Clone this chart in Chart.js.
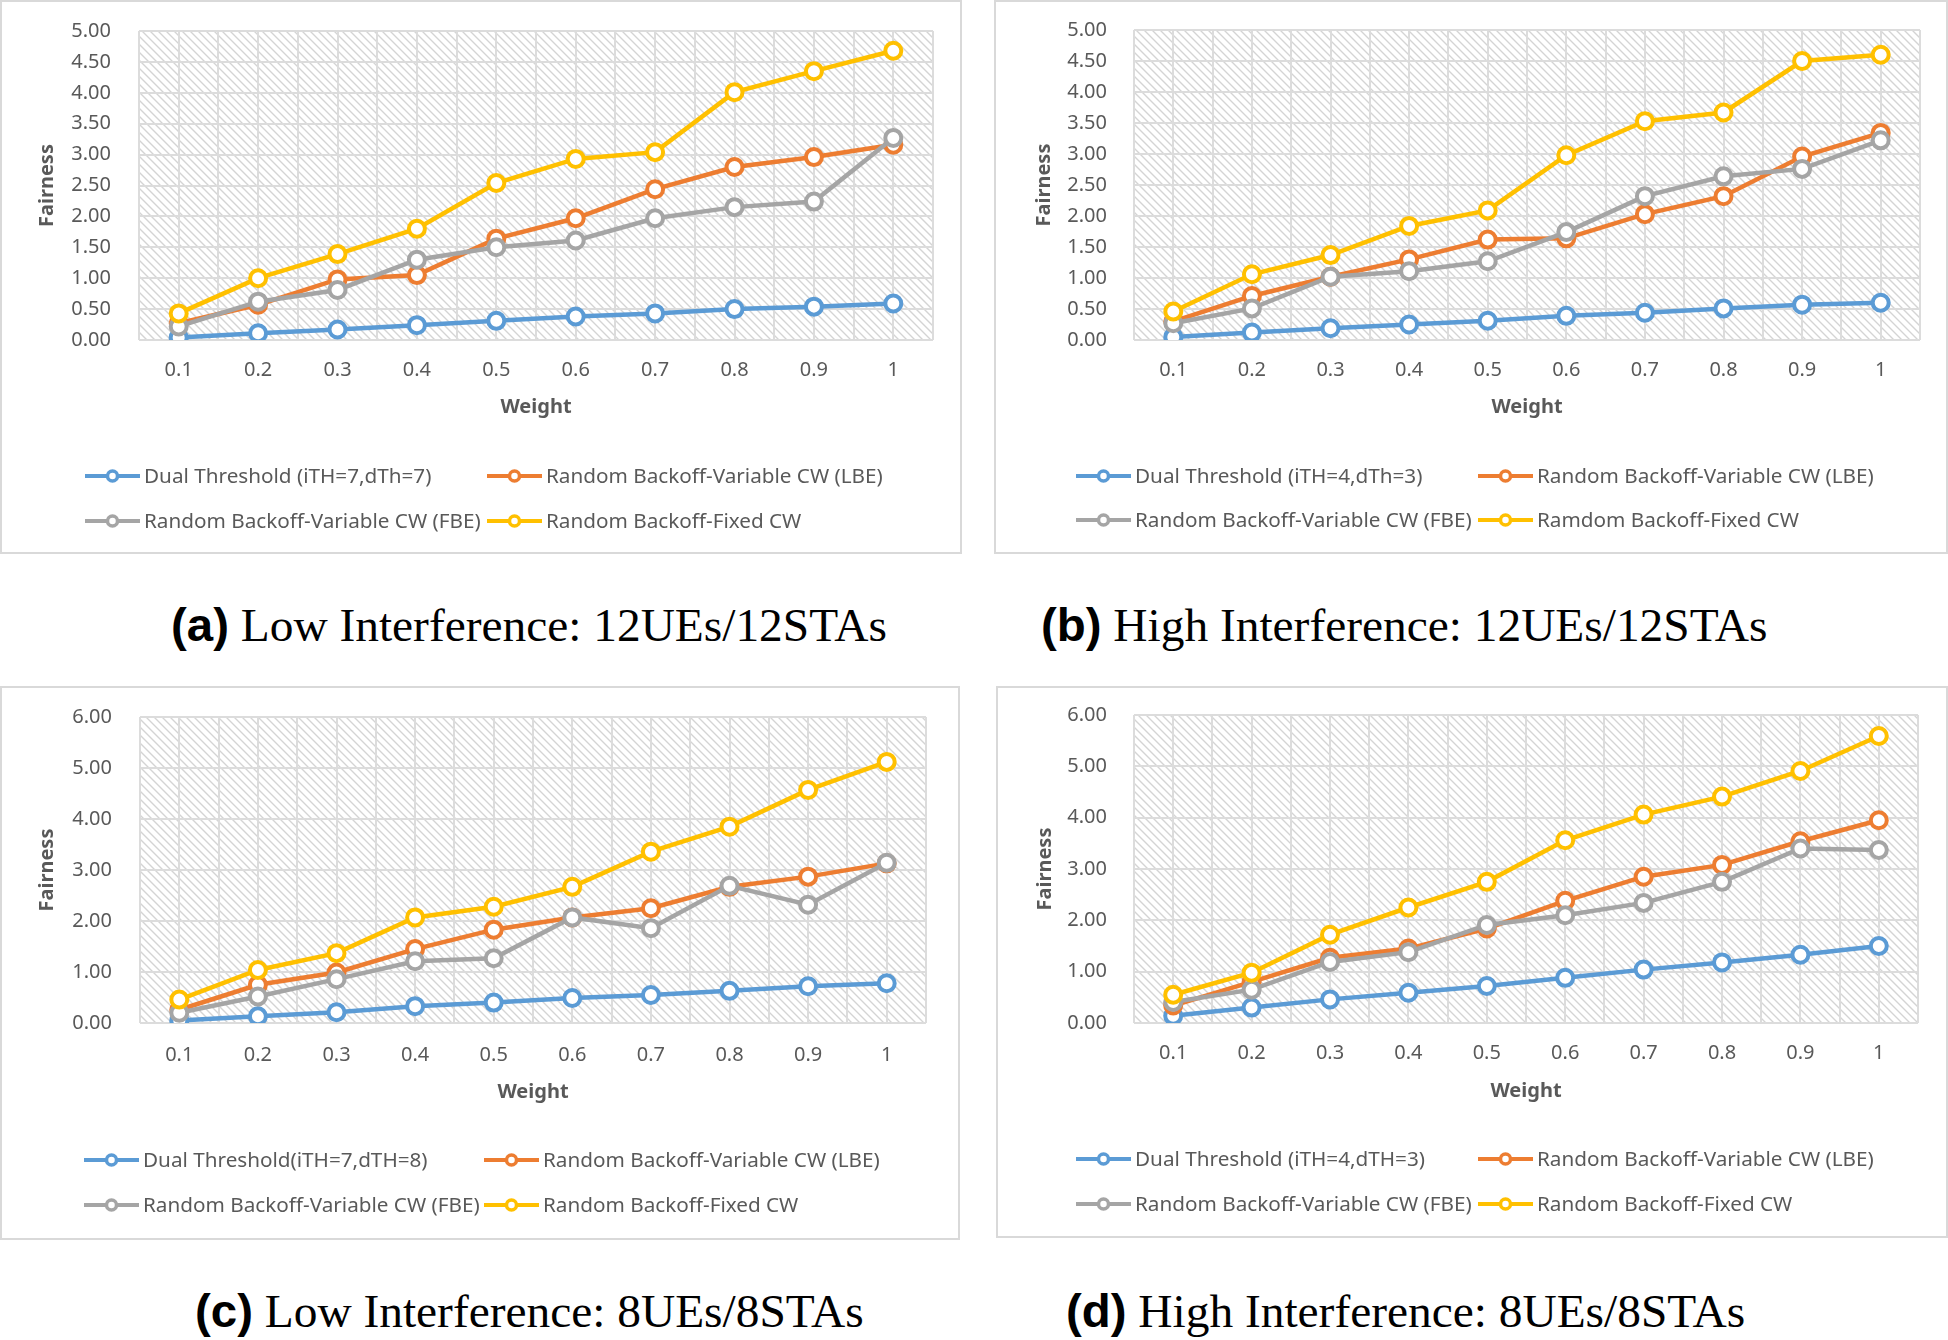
<!DOCTYPE html>
<html>
<head>
<meta charset="utf-8">
<script src="https://cdn.jsdelivr.net/npm/chart.js@4.4.1/dist/chart.umd.min.js"></script>
<style>
  html, body { margin: 0; padding: 0; background: #ffffff; }
  body { width: 1948px; height: 1340px; position: relative; overflow: hidden; }
  .panel { position: absolute; box-sizing: border-box; border: 2px solid #d9d9d9; background: #fff; }
  .panel canvas { position: absolute; left: 0; top: 0; }
  .cap { position: absolute; font-family: 'Liberation Serif', 'Times New Roman', serif; font-size: 46px; line-height: 46px; color: #000; white-space: nowrap; transform-origin: 0 0; transform: scaleX(1.03); }
  .cap b { font-family: 'Liberation Sans', Arial, sans-serif; font-weight: bold; }
</style>
</head>
<body>
<div class="panel" id="pa"><canvas id="ca"></canvas></div>
<div class="panel" id="pb"><canvas id="cb"></canvas></div>
<div class="panel" id="pc"><canvas id="cc"></canvas></div>
<div class="panel" id="pd"><canvas id="cd"></canvas></div>
<div class="cap" id="capa"><b>(a)</b> Low Interference: 12UEs/12STAs</div>
<div class="cap" id="capb"><b>(b)</b> High Interference: 12UEs/12STAs</div>
<div class="cap" id="capc"><b>(c)</b> Low Interference: 8UEs/8STAs</div>
<div class="cap" id="capd"><b>(d)</b> High Interference: 8UEs/8STAs</div>
<script>
// ---------------- DATA ----------------
const weights = ['0.1', '0.2', '0.3', '0.4', '0.5', '0.6', '0.7', '0.8', '0.9', '1'];

const aNames = ['Dual Threshold (iTH=7,dTh=7)', 'Random Backoff-Variable CW (LBE)', 'Random Backoff-Variable CW (FBE)', 'Random Backoff-Fixed CW'];
const aDual  = [0.04, 0.11, 0.17, 0.24, 0.31, 0.38, 0.43, 0.50, 0.54, 0.59];
const aLBE   = [0.27, 0.57, 0.98, 1.05, 1.64, 1.97, 2.44, 2.80, 2.96, 3.16];
const aFBE   = [0.22, 0.62, 0.81, 1.30, 1.50, 1.61, 1.97, 2.15, 2.24, 3.27];
const aFixed = [0.43, 1.00, 1.39, 1.80, 2.54, 2.93, 3.04, 4.01, 4.35, 4.68];

const bNames = ['Dual Threshold (iTH=4,dTh=3)', 'Random Backoff-Variable CW (LBE)', 'Random Backoff-Variable CW (FBE)', 'Ramdom Backoff-Fixed CW'];
const bDual  = [0.05, 0.12, 0.19, 0.25, 0.31, 0.39, 0.44, 0.51, 0.57, 0.60];
const bLBE   = [0.30, 0.71, 1.02, 1.30, 1.62, 1.64, 2.03, 2.32, 2.96, 3.34];
const bFBE   = [0.27, 0.51, 1.02, 1.11, 1.27, 1.74, 2.32, 2.64, 2.76, 3.22];
const bFixed = [0.46, 1.06, 1.37, 1.84, 2.09, 2.98, 3.53, 3.67, 4.50, 4.60];

const cNames = ['Dual Threshold(iTH=7,dTH=8)', 'Random Backoff-Variable CW (LBE)', 'Random Backoff-Variable CW (FBE)', 'Random Backoff-Fixed CW'];
const cDual  = [0.05, 0.13, 0.21, 0.33, 0.40, 0.49, 0.55, 0.63, 0.72, 0.78];
const cLBE   = [0.26, 0.75, 0.99, 1.45, 1.83, 2.07, 2.25, 2.67, 2.87, 3.13];
const cFBE   = [0.20, 0.52, 0.86, 1.21, 1.27, 2.07, 1.86, 2.69, 2.32, 3.14];
const cFixed = [0.46, 1.04, 1.37, 2.07, 2.28, 2.67, 3.36, 3.85, 4.57, 5.12];

const dNames = ['Dual Threshold (iTH=4,dTH=3)', 'Random Backoff-Variable CW (LBE)', 'Random Backoff-Variable CW (FBE)', 'Random Backoff-Fixed CW'];
const dDual  = [0.14, 0.30, 0.46, 0.59, 0.72, 0.88, 1.04, 1.18, 1.33, 1.50];
const dLBE   = [0.34, 0.80, 1.27, 1.45, 1.84, 2.38, 2.85, 3.08, 3.54, 3.95];
const dFBE   = [0.41, 0.65, 1.19, 1.38, 1.91, 2.10, 2.34, 2.75, 3.40, 3.37];
const dFixed = [0.55, 0.98, 1.72, 2.25, 2.75, 3.56, 4.06, 4.41, 4.91, 5.59];

const seriesColors = ['#5B9BD5', '#ED7D31', '#A5A5A5', '#FFC000'];
const xTitle = 'Weight';
const yTitle = 'Fairness';

// ---------------- LAYOUT ----------------
const panels = [
  { pid: 'pa', cid: 'ca', box: [0, 0, 962, 554], plot: [139, 31, 933, 340], yTitleX: 47, yLabelR: 111, xLabelY: 370, xTitleY: 407,
    legCols: [85, 487], legRows: [476, 521], yMax: 5, yStep: 0.5, names: aNames, series: [aDual, aLBE, aFBE, aFixed] },
  { pid: 'pb', cid: 'cb', box: [994, 0, 954, 554], plot: [1134, 30, 1920, 340], yTitleX: 1044, yLabelR: 1107, xLabelY: 370, xTitleY: 407,
    legCols: [1076, 1478], legRows: [476, 520], yMax: 5, yStep: 0.5, names: bNames, series: [bDual, bLBE, bFBE, bFixed] },
  { pid: 'pc', cid: 'cc', box: [0, 686, 960, 554], plot: [140, 717, 926, 1023], yTitleX: 47, yLabelR: 112, xLabelY: 1055, xTitleY: 1092,
    legCols: [84, 484], legRows: [1160, 1205], yMax: 6, yStep: 1, names: cNames, series: [cDual, cLBE, cFBE, cFixed] },
  { pid: 'pd', cid: 'cd', box: [996, 686, 952, 552], plot: [1134, 715, 1918, 1023], yTitleX: 1045, yLabelR: 1107, xLabelY: 1053, xTitleY: 1091,
    legCols: [1076, 1478], legRows: [1159, 1204], yMax: 6, yStep: 1, names: dNames, series: [dDual, dLBE, dFBE, dFixed] }
];
const captions = [
  { id: 'capa', left: 171, baseline: 640 },
  { id: 'capb', left: 1041, baseline: 640 },
  { id: 'capc', left: 195, baseline: 1326 },
  { id: 'capd', left: 1066, baseline: 1326 }
];

Chart.defaults.font.family = "'Noto Sans', 'Open Sans', sans-serif";
Chart.defaults.color = '#595959';
Chart.defaults.animation = false;

const FONT = "'Noto Sans', 'Open Sans', sans-serif";
const BW = 2; // panel border

// hatch background inside the plot area
const hatchPlugin = {
  id: 'hatch',
  beforeDraw(chart) {
    const { ctx, chartArea: a } = chart;
    ctx.save();
    ctx.fillStyle = '#ffffff';
    ctx.fillRect(a.left, a.top, a.right - a.left, a.bottom - a.top);
    ctx.beginPath();
    ctx.rect(a.left, a.top, a.right - a.left, a.bottom - a.top);
    ctx.clip();
    ctx.strokeStyle = '#d4d4d4';
    ctx.lineWidth = 1.4;
    const h = a.bottom - a.top;
    ctx.beginPath();
    for (let k = -h; k < (a.right - a.left) + 8; k += 8) {
      ctx.moveTo(a.left + k, a.top);
      ctx.lineTo(a.left + k + h, a.bottom);
    }
    ctx.stroke();
    ctx.restore();
  }
};

// Excel-style two column legend
const gridLegendPlugin = {
  id: 'gridLegend',
  afterDraw(chart, args, opts) {
    const { ctx } = chart;
    ctx.save();
    chart.data.datasets.forEach((ds, i) => {
      const col = i % 2, row = Math.floor(i / 2);
      const x = opts.cols[col], y = opts.rows[row];
      ctx.strokeStyle = ds.borderColor;
      ctx.lineWidth = 4;
      ctx.beginPath();
      ctx.moveTo(x, y);
      ctx.lineTo(x + 55, y);
      ctx.stroke();
      ctx.beginPath();
      ctx.arc(x + 27.5, y, 5, 0, Math.PI * 2);
      ctx.fillStyle = '#ffffff';
      ctx.fill();
      ctx.lineWidth = 3.5;
      ctx.stroke();
      ctx.fillStyle = '#595959';
      ctx.font = '20.7px ' + FONT;
      ctx.textBaseline = 'middle';
      ctx.textAlign = 'left';
      ctx.fillText(ds.label, x + 59, y + 1);
    });
    ctx.restore();
  }
};

panels.forEach(p => {
  const [bx, by, bw, bh] = p.box;
  const div = document.getElementById(p.pid);
  div.style.left = bx + 'px';
  div.style.top = by + 'px';
  div.style.width = bw + 'px';
  div.style.height = bh + 'px';
  const cx = bx + BW, cy = by + BW, cw = bw - 2 * BW, ch = bh - 2 * BW;
  const canvas = document.getElementById(p.cid);
  canvas.width = cw; canvas.height = ch;
  canvas.style.width = cw + 'px'; canvas.style.height = ch + 'px';

  const [pl, pt, pr, pb] = p.plot;
  const yAxisW = pl - cx;
  const xAxisH = p.xTitleY - pb + 12;

  const datasets = p.series.map((vals, i) => ({
    label: p.names[i],
    data: vals.map((v, j) => ({ x: j, y: v })),
    borderColor: seriesColors[i],
    backgroundColor: '#ffffff',
    pointBackgroundColor: '#ffffff',
    pointBorderColor: seriesColors[i],
    pointRadius: 8,
    pointBorderWidth: 4,
    borderWidth: 4.5,
    fill: false,
    tension: 0,
    order: 4 - i
  }));

  new Chart(canvas, {
    type: 'line',
    data: { datasets },
    options: {
      responsive: false,
      animation: false,
      events: [],
      layout: {
        padding: { left: 0, top: pt - cy, right: (cx + cw) - pr, bottom: (cy + ch) - (pb + xAxisH) }
      },
      plugins: {
        legend: { display: false },
        tooltip: { enabled: false },
        gridLegend: { cols: p.legCols.map(v => v - cx), rows: p.legRows.map(v => v - cy) }
      },
      scales: {
        x: {
          type: 'linear',
          min: -0.5,
          max: weights.length - 0.5,
          afterFit(scale) { scale.height = xAxisH; },
          grid: { color: '#dcdcdc', lineWidth: 2, drawTicks: false },
          border: { display: false },
          ticks: {
            stepSize: 0.5,
            autoSkip: false,
            maxRotation: 0,
            padding: p.xLabelY - pb - 12,
            color: '#595959',
            font: { size: 20 },
            callback(v) { return Number.isInteger(v) && v >= 0 && v < weights.length ? weights[v] : ''; }
          },
          title: {
            display: true, text: xTitle, color: '#595959',
            font: { size: 20, weight: 'bold' }, padding: { top: 0, bottom: 0 }
          }
        },
        y: {
          type: 'linear',
          min: 0,
          max: p.yMax,
          afterFit(scale) { scale.width = yAxisW; },
          grid: { color: '#dcdcdc', lineWidth: 2, drawTicks: true, tickLength: pl - p.yLabelR - 2, tickColor: 'rgba(0,0,0,0)' },
          border: { display: false },
          ticks: {
            stepSize: p.yStep,
            padding: 2,
            color: '#595959',
            font: { size: 20 },
            callback(v) { return Number(v).toFixed(2); }
          },
          title: {
            display: true, text: yTitle, color: '#595959',
            font: { size: 20, weight: 'bold' }, padding: { top: p.yTitleX - cx - 12, bottom: 0 }
          }
        }
      }
    },
    plugins: [hatchPlugin, gridLegendPlugin]
  });
});

captions.forEach(c => {
  const el = document.getElementById(c.id);
  el.style.left = c.left + 'px';
  el.style.top = (c.baseline - 38) + 'px';
});
</script>
</body>
</html>
